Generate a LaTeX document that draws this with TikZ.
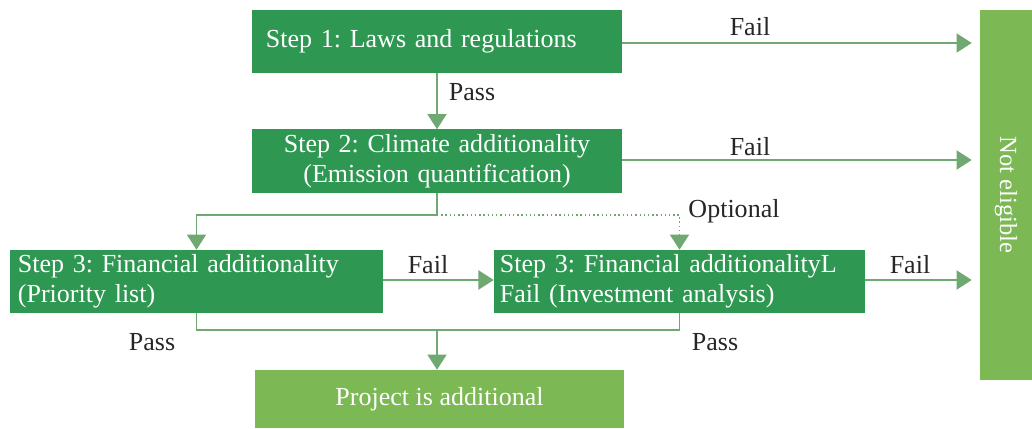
\documentclass[tikz,border=0pt]{standalone}
\usepackage{fontspec}
\setmainfont{Liberation Serif}
\usepackage{tikz}
\usetikzlibrary{arrows.meta,positioning,calc}
\frenchspacing

\definecolor{stepgreen}{RGB}{46,152,82}
\definecolor{endgreen}{RGB}{124,184,84}
\definecolor{linegreen}{RGB}{112,168,114}

\begin{document}
\begin{tikzpicture}
[   x=0.025cm, y=-0.025cm,
    stepbox/.style={fill=stepgreen, text=white, minimum height=1.575cm, inner xsep=0pt, inner ysep=0pt},
    endbox/.style={fill=endgreen, text=white, inner sep=0pt},
    line/.style={draw=linegreen, line width=1pt},
    arr/.style={line, -{Triangle[width=0.48cm, length=0.38cm]}},
    lab/.style={text=black!85},
    every node/.style={font=\fontsize{18.5}{21.5}\selectfont}, ]
    \useasboundingbox (0,0) rectangle (1032,428);

    % steps
    \node[stepbox, minimum width=9.25cm, text width=8.55cm, align=left] (s1) at (437,41.5) {\strut Step 1: Laws and regulations};
    \node[stepbox, minimum width=9.25cm, text width=9.25cm, align=center] (s2) at (437,161) {Step 2: Climate additionality\\(Emission quantification)};
    \node[stepbox, minimum width=9.325cm, text width=8.925cm, align=left] (s3a) at (196.5,281.5) {Step 3: Financial additionality\\(Priority list)};
    \node[stepbox, minimum width=9.275cm, text width=8.975cm, align=left] (s3b) at (679.5,281.5) {Step 3: Financial additionalityL\\Fail (Investment analysis)};

    % outcomes
    \node[endbox, minimum width=9.225cm, minimum height=1.45cm] (proj) at (439.5,399) {\strut Project is additional};
    \node[endbox, minimum width=1.3cm, minimum height=9.25cm] (ne) at (1006,195) {};
    \node[endbox, rotate=-90, text=white, font=\fontsize{17.5}{21}\selectfont] (nelab) at (ne.center) {Not eligible};

    % pass and split
    \draw[arr] (s1) -- (s2);
    \node[lab] (p1) at (472,92) {Pass};
    \coordinate (split) at (437,215);
    \draw[line] (s2.south) -- (split);
    \draw[arr] (split) -| (s3a.north);
    \draw[line, dotted, -{Triangle[width=0.48cm, length=0.38cm]}] (split) -| (s3b.north);
    \node[lab] (opt) at (734,211) {Optional};

    % fail branches
    \foreach \s/\y in {s1/43, s2/160, s3b/280}
    {
        \draw[arr, shorten >=0.2cm] (\s.east |- 0,\y) -- (ne.west |- 0,\y);
    }
    \node[lab] (f1) at (750,27) {Fail};
    \node[lab] (f2) at (750,147) {Fail};
    \node[lab] (f3) at (910,265) {Fail};
    \draw[arr] (s3a.east |- 0,280) -- (s3b.west |- 0,280);
    \node[lab] (f4) at (428,265) {Fail};

    % join into result
    \coordinate (join) at (437,330);
    \draw[line] (s3a.south) |- (join) -| (s3b.south);
    \draw[arr] (join) -- (join |- proj.north);
    \node[lab] (p2) at (152,342) {Pass};
    \node[lab] (p3) at (715,342) {Pass};
\end{tikzpicture}
\end{document}
